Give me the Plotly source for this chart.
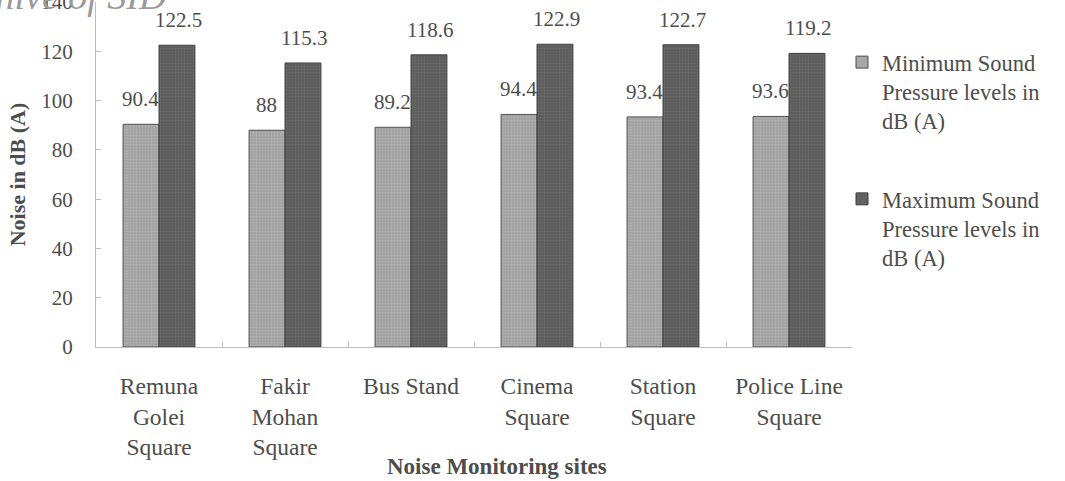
import plotly.graph_objects as go

sites = ["Remuna<br>Golei<br>Square", "Fakir<br>Mohan<br>Square", "Bus Stand",
         "Cinema<br>Square", "Station<br>Square", "Police Line<br>Square"]
min_spl = [90.4, 88, 89.2, 94.4, 93.4, 93.6]
max_spl = [122.5, 115.3, 118.6, 122.9, 122.7, 119.2]
min_name = "Minimum Sound<br>Pressure levels in<br>dB (A)"
max_name = "Maximum Sound<br>Pressure levels in<br>dB (A)"
y_ticks = [0, 20, 40, 60, 80, 100, 120, 140]

FONT = "Liberation Serif"
TXT = "#4d4d4d"

fig = go.Figure()
fig.add_trace(go.Bar(
    x=sites, y=min_spl, name=min_name, legendgroup="a",
    marker=dict(color="#a3a3a3", line=dict(color="#505050", width=1),
                pattern=dict(shape=".", size=3, solidity=0.25, fgcolor="#c4c4c4", fillmode="overlay")),
))
fig.add_trace(go.Bar(
    x=sites, y=max_spl, name=max_name, legendgroup="b",
    marker=dict(color="#5e5e5e", line=dict(color="#404040", width=1),
                pattern=dict(shape=".", size=3, solidity=0.25, fgcolor="#787878", fillmode="overlay")),
))

annotations = []
for s, v in zip(sites, min_spl):
    annotations.append(dict(x=s, y=v, xref="x", yref="y", text=f"{v:g}", showarrow=False,
                            xshift=-19, yshift=11, yanchor="bottom",
                            font=dict(family=FONT, size=21, color=TXT)))
for s, v in zip(sites, max_spl):
    annotations.append(dict(x=s, y=v, xref="x", yref="y", text=f"{v:g}", showarrow=False,
                            xshift=19, yshift=11, yanchor="bottom",
                            font=dict(family=FONT, size=21, color=TXT)))
# x axis title
annotations.append(dict(x=(497 - 96) / 756, y=-0.345, xref="paper", yref="paper",
                        text="<b>Noise Monitoring sites</b>", showarrow=False,
                        xanchor="center", yanchor="middle",
                        font=dict(family=FONT, size=23, color=TXT)))
# watermark
annotations.append(dict(x=(168 - 96) / 756, y=0.95, xref="paper", yref="paper",
                        text="<i>Archive of SID</i>", showarrow=False,
                        xanchor="right", yanchor="bottom",
                        font=dict(family=FONT, size=38, color="#9a9a9a")))

fig.update_layout(
    width=1065, height=481,
    margin=dict(l=96, r=213, t=2, b=134, autoexpand=False),
    paper_bgcolor="white", plot_bgcolor="white",
    barmode="group", bargap=0.43, bargroupgap=0,
    font=dict(family=FONT, size=21, color=TXT),
    legend=dict(x=(842 - 96) / 756, y=0.887, xanchor="left", yanchor="top", valign="top",
                font=dict(family=FONT, size=22.5, color=TXT),
                tracegroupgap=46, itemwidth=30, bgcolor="rgba(0,0,0,0)"),
    annotations=annotations,
    showlegend=True,
)
fig.update_xaxes(
    automargin=False,
    showline=True, linecolor="#bdbdbd", linewidth=1,
    ticks="inside", tickson="boundaries", ticklen=5, tickcolor="#bdbdbd",
    ticklabelstandoff=18,
    tickfont=dict(family=FONT, size=23.5, color=TXT),
)
fig.update_yaxes(
    automargin=False,
    range=[0, 140.05], tickvals=y_ticks, showgrid=False, zeroline=False,
    showline=True, linecolor="#bdbdbd", linewidth=1,
    ticks="inside", ticklen=5, tickcolor="#bdbdbd",
    ticklabelstandoff=18, ticklabeloverflow="allow",
    tickfont=dict(family=FONT, size=21, color=TXT),
    title=dict(text="<b>Noise in dB (A)</b>", standoff=9,
               font=dict(family=FONT, size=22, color=TXT)),
)

fig.write_html("out.html", config={"displayModeBar": False},
               post_script="document.body.style.margin='0px';")
